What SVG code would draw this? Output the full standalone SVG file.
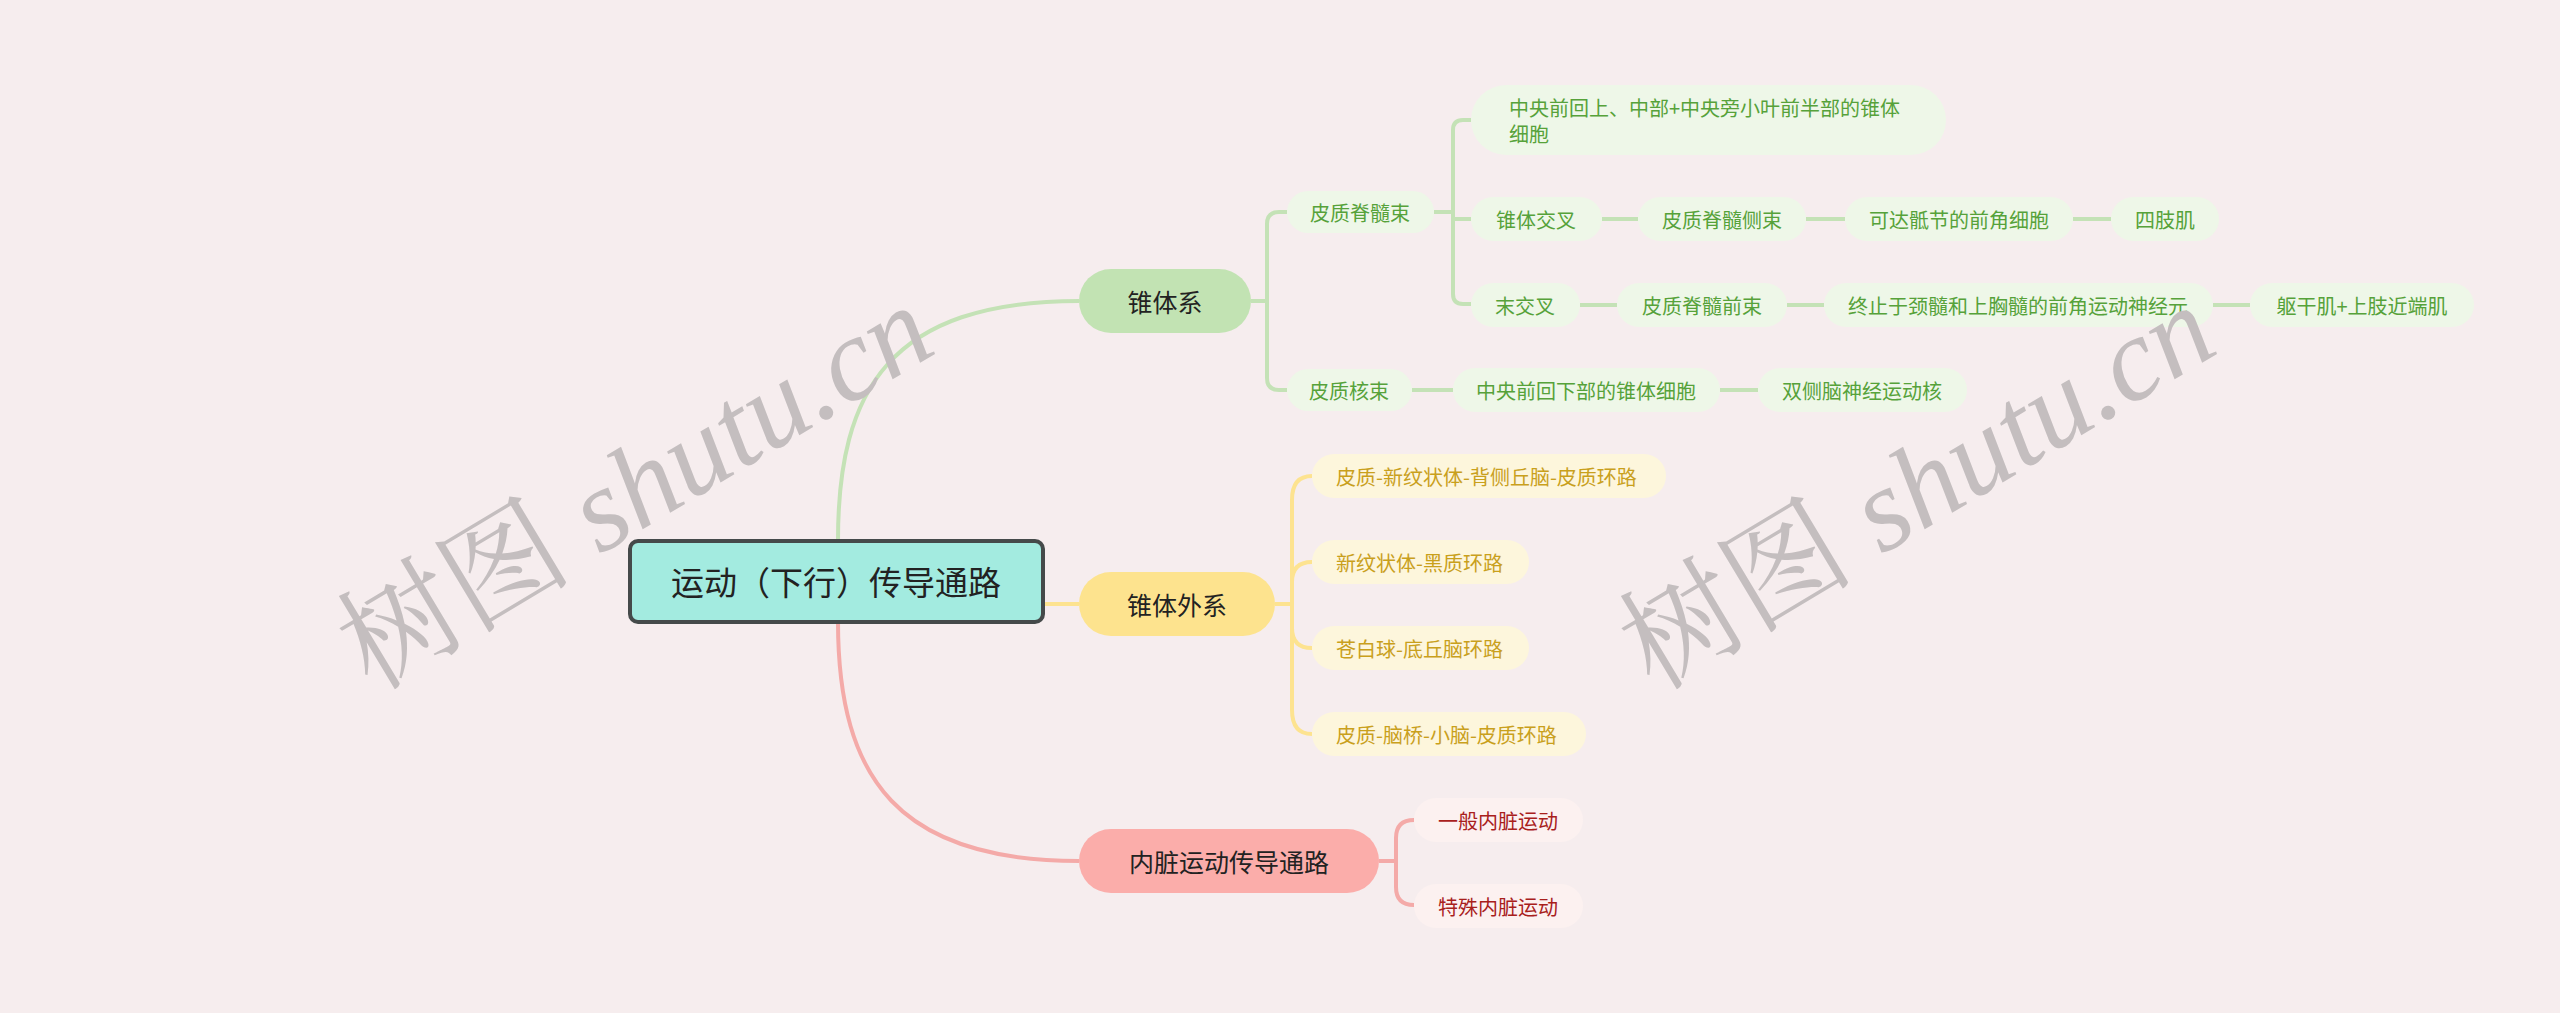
<svg xmlns="http://www.w3.org/2000/svg" width="2560" height="1013" viewBox="0 0 2560 1013">
<style>
text{font-family:"Noto Sans CJK SC","Noto Sans",sans-serif;dominant-baseline:central}
.c{text-anchor:middle}
.root rect{fill:#a3ebe0;stroke:#454a4a;stroke-width:4}
.root text{font-size:33px;fill:#222}
.l1 text{font-size:25px;fill:#222}
.g rect{fill:#eef7e8}
.g text{font-size:20px;fill:#56a23a}
.y rect{fill:#fdf6dc}
.y text{font-size:20px;fill:#c9a01c}
.p rect{fill:#fcf1f0}
.p text{font-size:20px;fill:#a8201c}
.lg{fill:none;stroke:#c4e2b6;stroke-width:4}
.ly{fill:none;stroke:#fde390;stroke-width:4}
.lp{fill:none;stroke:#f4aaa8;stroke-width:4}
.wm{font-family:"Liberation Serif","Noto Serif CJK SC","Noto Sans CJK SC",serif;font-size:118px;fill:#c4bebf;dominant-baseline:alphabetic}
.wm .it{font-style:italic}
</style>
<rect width="2560" height="1013" fill="#f6edee"/>

<g id="connectors">
<path class="lg" d="M838 540 C838 390 890 301 1079 301"/>
<path class="ly" d="M1043 604 H1079"/>
<path class="lp" d="M838 622 C838 780 900 861 1079 861"/>
<path class="lg" d="M1251 301 H1267 M1287 212 H1279 Q1267 212 1267 224 V378 Q1267 390 1279 390 H1287"/>
<path class="lg" d="M1434 212 H1453 M1471 120 H1463 Q1453 120 1453 130 V294 Q1453 304 1463 304 H1471 M1453 219 H1471"/>
<path class="lg" d="M1602 219 H1638 M1806 219 H1845 M2073 219 H2111"/>
<path class="lg" d="M1580 305 H1617 M1787 305 H1824 M2213 305 H2250"/>
<path class="lg" d="M1412 390 H1453 M1720 390 H1758"/>
<path class="ly" d="M1275 604 H1292 M1312 476 Q1292 476 1292 500 V710 Q1292 734 1312 734 M1312 562 Q1292 562 1292 582 M1312 648 Q1292 648 1292 628"/>
<path class="lp" d="M1379 861 H1396 M1414 820 Q1396 820 1396 838 V887 Q1396 905 1414 905"/>
</g>

<g id="root" class="root"><rect x="630" y="541" width="413" height="81" rx="8"/><text class="c" x="836" y="581">运动（下行）传导通路</text></g>

<g id="n-zhuiti" class="l1"><rect x="1079" y="269" width="172" height="64" rx="32" fill="#c2e3b3"/><text class="c" x="1165" y="301">锥体系</text></g>
<g id="n-zhuitiwai" class="l1"><rect x="1079" y="572" width="196" height="64" rx="32" fill="#fde38e"/><text class="c" x="1177" y="604">锥体外系</text></g>
<g id="n-neizang" class="l1"><rect x="1079" y="829" width="300" height="64" rx="32" fill="#fbadaa"/><text class="c" x="1229" y="861">内脏运动传导通路</text></g>

<g id="n-pzjs" class="g"><rect x="1287" y="191" width="147" height="42" rx="21"/><text class="c" x="1360" y="212">皮质脊髓束</text></g>
<g id="n-pzh" class="g"><rect x="1287" y="369" width="125" height="42" rx="21"/><text class="c" x="1349" y="390">皮质核束</text></g>

<g id="n-zyqh" class="g"><rect x="1471" y="85" width="475" height="70" rx="35"/><text x="1509" y="107">中央前回上、中部+中央旁小叶前半部的锥体</text><text x="1509" y="133">细胞</text></g>
<g id="n-ztjc" class="g"><rect x="1471" y="197" width="131" height="44" rx="22"/><text class="c" x="1536" y="219">锥体交叉</text></g>
<g id="n-pzjscs" class="g"><rect x="1638" y="197" width="168" height="44" rx="22"/><text class="c" x="1722" y="219">皮质脊髓侧束</text></g>
<g id="n-kdd" class="g"><rect x="1845" y="197" width="228" height="44" rx="22"/><text class="c" x="1959" y="219">可达骶节的前角细胞</text></g>
<g id="n-szj" class="g"><rect x="2111" y="197" width="108" height="44" rx="22"/><text class="c" x="2165" y="219">四肢肌</text></g>

<g id="n-mjc" class="g"><rect x="1471" y="283" width="109" height="44" rx="22"/><text class="c" x="1525" y="305">末交叉</text></g>
<g id="n-pzjsqs" class="g"><rect x="1617" y="283" width="170" height="44" rx="22"/><text class="c" x="1702" y="305">皮质脊髓前束</text></g>
<g id="n-zzy" class="g"><rect x="1824" y="283" width="389" height="44" rx="22"/><text class="c" x="2018" y="305">终止于颈髓和上胸髓的前角运动神经元</text></g>
<g id="n-qgj" class="g"><rect x="2250" y="283" width="224" height="44" rx="22"/><text class="c" x="2362" y="305">躯干肌+上肢近端肌</text></g>

<g id="n-zyqhxb" class="g"><rect x="1453" y="368" width="267" height="44" rx="22"/><text class="c" x="1586" y="390">中央前回下部的锥体细胞</text></g>
<g id="n-scn" class="g"><rect x="1758" y="368" width="209" height="44" rx="22"/><text class="c" x="1862" y="390">双侧脑神经运动核</text></g>

<g id="n-y1" class="y"><rect x="1312" y="454" width="354" height="44" rx="22"/><text x="1336" y="476">皮质-新纹状体-背侧丘脑-皮质环路</text></g>
<g id="n-y2" class="y"><rect x="1312" y="540" width="217" height="44" rx="22"/><text x="1336" y="562">新纹状体-黑质环路</text></g>
<g id="n-y3" class="y"><rect x="1312" y="626" width="217" height="44" rx="22"/><text x="1336" y="648">苍白球-底丘脑环路</text></g>
<g id="n-y4" class="y"><rect x="1312" y="712" width="274" height="44" rx="22"/><text x="1336" y="734">皮质-脑桥-小脑-皮质环路</text></g>

<g id="n-p1" class="p"><rect x="1414" y="798" width="169" height="44" rx="22"/><text class="c" x="1498" y="820">一般内脏运动</text></g>
<g id="n-p2" class="p"><rect x="1414" y="884" width="169" height="44" rx="22"/><text class="c" x="1498" y="906">特殊内脏运动</text></g>

<text class="wm" transform="translate(372,692) rotate(-31)">树图 <tspan class="it">shutu.cn</tspan></text>
<text class="wm" transform="translate(1654,692) rotate(-31)">树图 <tspan class="it">shutu.cn</tspan></text>
</svg>
